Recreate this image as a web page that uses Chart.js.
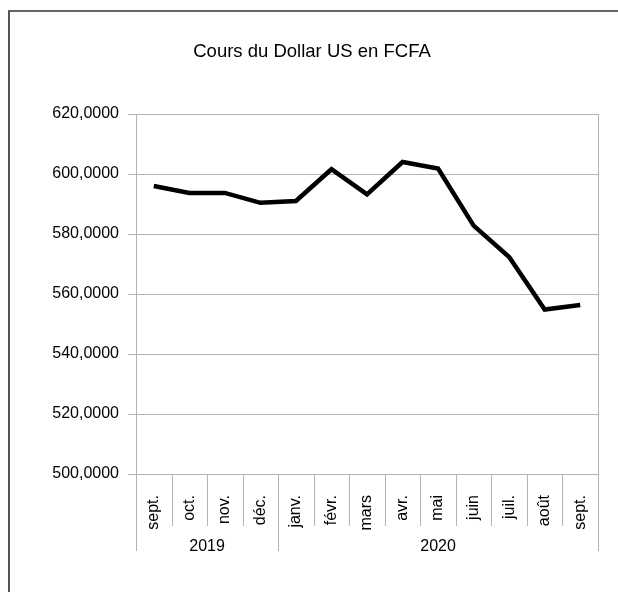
<!DOCTYPE html>
<html>
<head>
<meta charset="utf-8">
<script src="https://cdn.jsdelivr.net/npm/chart.js"></script>
<style>
  body { margin: 0; background: #fff; }
  #wrap { position: relative; width: 618px; height: 592px; }
  #frame { position: absolute; left: 8px; top: 10px; right: -4px; bottom: -4px;
           border-top: 2px solid #666; border-left: 2px solid #555; }
  canvas { position: absolute; left: 0; top: 0; }
</style>
</head>
<body>
<div id="wrap">
  <div id="frame"></div>
  <canvas id="chart" width="618" height="592"></canvas>
</div>
<script>
const months = ['sept.', 'oct.', 'nov.', 'déc.', 'janv.', 'févr.', 'mars', 'avr.', 'mai', 'juin', 'juil.', 'août', 'sept.'];
const rates = [596.0, 593.7, 593.7, 590.4, 591.0, 601.6, 593.2, 604.0, 601.8, 582.8, 572.3, 554.8, 556.3];
const years = ['2019', '2020'];
const yearSpans = [4, 9];
const yTicks = [500, 520, 540, 560, 580, 600, 620];

const gridColor = '#b3b3b3';
const font = { family: '"Liberation Sans", Arial, sans-serif', size: 16 };

function fmt(v) {
  return v.toFixed(4).replace('.', ',');
}

// separators and year row under the x axis, plus the right edge of the plot
const groupAxis = {
  id: 'groupAxis',
  afterDraw(chart) {
    const ctx = chart.ctx;
    const x = chart.scales.x;
    const area = chart.chartArea;
    const half = (x.getPixelForValue(1) - x.getPixelForValue(0)) / 2;
    const px = v => Math.round(v) + 0.5;
    ctx.save();
    ctx.strokeStyle = gridColor;
    ctx.lineWidth = 1;
    ctx.beginPath();
    ctx.moveTo(px(area.right), area.top);
    ctx.lineTo(px(area.right), area.bottom);
    for (let i = 0; i <= months.length; i++) {
      const bx = px(x.getPixelForValue(i) - half);
      ctx.moveTo(bx, area.bottom);
      ctx.lineTo(bx, area.bottom + 52);
    }
    let start = 0;
    const edges = [0];
    yearSpans.forEach(n => { start += n; edges.push(start); });
    edges.forEach(e => {
      const bx = px(x.getPixelForValue(e) - half);
      ctx.moveTo(bx, area.bottom);
      ctx.lineTo(bx, area.bottom + 77);
    });
    ctx.stroke();

    ctx.fillStyle = '#000';
    ctx.font = font.size + 'px ' + font.family;
    ctx.textAlign = 'center';
    ctx.textBaseline = 'middle';
    years.forEach((y, i) => {
      const a = x.getPixelForValue(edges[i]) - half;
      const b = x.getPixelForValue(edges[i + 1]) - half;
      ctx.fillText(y, (a + b) / 2, area.bottom + 73);
    });
    ctx.restore();
  }
};

new Chart(document.getElementById('chart'), {
  type: 'line',
  data: {
    labels: months,
    datasets: [{
      data: rates,
      borderColor: '#000',
      borderWidth: 4.5,
      pointRadius: 0,
      tension: 0,
      fill: false
    }]
  },
  options: {
    responsive: false,
    animation: false,
    layout: { padding: { left: 26, right: 20, top: 0, bottom: 0 } },
    plugins: {
      legend: { display: false },
      tooltip: { enabled: false },
      title: {
        display: true,
        text: 'Cours du Dollar US en FCFA',
        color: '#000',
        font: { family: font.family, size: 18.5, weight: 'normal' },
        padding: { top: 40.5, bottom: 51.3 }
      }
    },
    scales: {
      x: {
        offset: true,
        grid: { display: false },
        border: { display: true, color: gridColor },
        ticks: {
          color: '#000',
          font: font,
          autoSkip: false,
          minRotation: 90,
          maxRotation: 90,
          padding: 13
        },
        afterFit(s) { s.height = 118; }
      },
      y: {
        min: 500,
        max: 620,
        afterBuildTicks(s) { s.ticks = yTicks.map(v => ({ value: v })); },
        grid: { color: gridColor, tickLength: 8 },
        border: { color: gridColor },
        ticks: {
          color: '#000',
          font: font,
          padding: 9,
          callback: v => fmt(v)
        },
        afterFit(s) { s.width = 110; }
      }
    }
  },
  plugins: [groupAxis]
});
</script>
</body>
</html>
